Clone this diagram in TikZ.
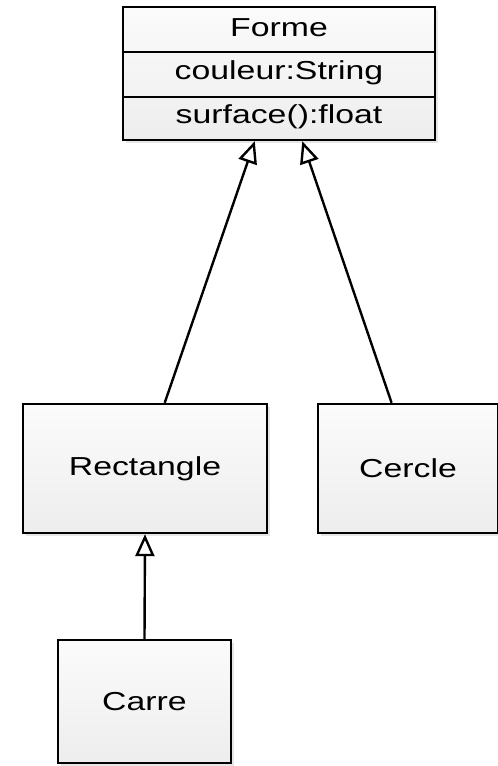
\documentclass[tikz,border=0pt]{standalone}
\usepackage{fontspec}
\setmainfont[FakeStretch=1.3]{Liberation Sans}
\usetikzlibrary{arrows.meta,shadows,calc}
\tikzset{
  box/.style={draw=black, line width=2.4pt, top color=gray!3, bottom color=gray!14,
    drop shadow={opacity=0.2, shadow xshift=3pt, shadow yshift=-3pt},
    inner sep=0pt, font=\fontsize{26}{30}\selectfont},
  lbl/.style={inner sep=0pt, font=\fontsize{26}{30}\selectfont},
  inherit/.style={line width=2.4pt, -{Triangle[open, length=22pt, width=19pt, line width=2.4pt]}},
  divider/.style={line width=2.4pt}
}
\begin{document}
\begin{tikzpicture}[x=1pt,y=-1pt]
\useasboundingbox (0,0) rectangle (498,766);
% class Forme
\node[box, minimum width=312pt, minimum height=133pt] (forme) at (279,73.5) {};
\node[lbl] (fname) at (279,28) {Forme};
\node[lbl] (fattr) at (279,73) {couleur:String};
\node[lbl] (fop) at (279,117) {surface():float};
\coordinate (d1w) at (forme.west |- 0,52);
\coordinate (d1e) at (forme.east |- 0,52);
\coordinate (d2w) at (forme.west |- 0,97);
\coordinate (d2e) at (forme.east |- 0,97);
\draw[divider] (d1w) -- (d1e);
\draw[divider] (d2w) -- (d2e);
% subclasses
\node[box, minimum width=244pt, minimum height=129pt] (rect) at (145,468.5) {Rectangle};
\node[box, minimum width=180pt, minimum height=129pt] (cercle) at (408,468.5) {Cercle};
\node[box, minimum width=173pt, minimum height=123pt] (carre) at (144.5,701.5) {Carre};
% inheritance
\coordinate (rtop) at ($(rect.north west)!0.58!(rect.north east)$);
\coordinate (ctop) at ($(cercle.north west)!0.41!(cercle.north east)$);
\coordinate (tip1) at ($(forme.south west)!0.423!(forme.south east)$);
\coordinate (tip2) at ($(forme.south west)!0.574!(forme.south east)$);
\draw[inherit] (rtop) -- (tip1);
\draw[inherit] (ctop) -- (tip2);
\draw[inherit] (carre.north) -- (rect.south);
\end{tikzpicture}
\end{document}
